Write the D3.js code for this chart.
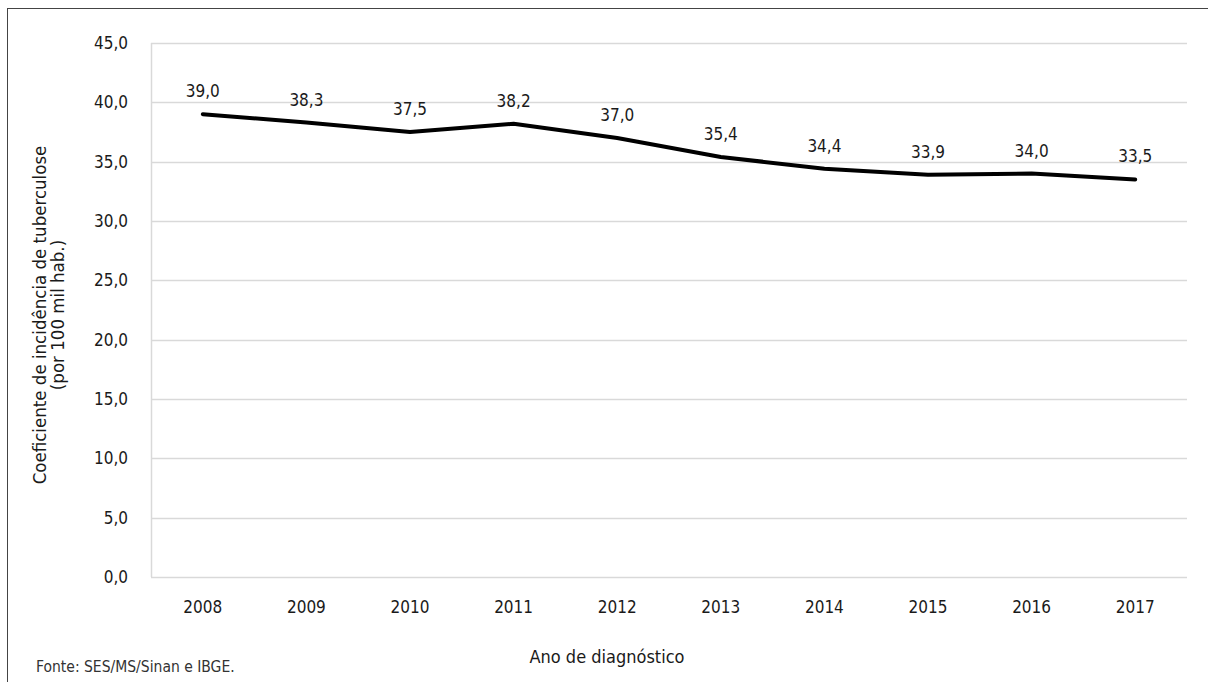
<!DOCTYPE html>
<html>
<head>
<meta charset="utf-8">
<script src="https://cdn.jsdelivr.net/npm/d3@7"></script>
<style>
  body { margin: 0; background: #fff; }
  svg text { font-family: "DejaVu Sans Condensed", "Liberation Sans Narrow", sans-serif; fill: #1a1a1a; }
</style>
</head>
<body>
<svg id="chart" width="1208" height="682"></svg>
<script>

// Chart data.
var years = ['2008', '2009', '2010', '2011', '2012', '2013', '2014', '2015', '2016', '2017'];
var rates = [39.0, 38.3, 37.5, 38.2, 37.0, 35.4, 34.4, 33.9, 34.0, 33.5];
var yTicks = [0, 5, 10, 15, 20, 25, 30, 35, 40, 45];

// Number format with comma decimal.
var fmt = function(v) { return v.toFixed(1).replace('.', ','); };

var svg = d3.select('#chart');

// Outer frame.
svg.append('rect')
  .attr('x', 7.5).attr('y', 8.5)
  .attr('width', 1220).attr('height', 700)
  .attr('fill', 'none')
  .attr('stroke', '#444')
  .attr('stroke-width', 1);

// Scales.
var x = d3.scaleBand().domain(years).range([151, 1187]);
var y = d3.scaleLinear().domain([0, 45]).range([577, 43]);

// Gridlines.
svg.append('g').selectAll('line')
  .data(yTicks)
  .enter().append('line')
  .attr('x1', 151).attr('x2', 1187)
  .attr('y1', function(d) { return Math.round(y(d)) + 0.5; })
  .attr('y2', function(d) { return Math.round(y(d)) + 0.5; })
  .attr('stroke', '#d9d9d9')
  .attr('stroke-width', 1.5);

// Left axis line.
svg.append('line')
  .attr('x1', 151.5).attr('x2', 151.5)
  .attr('y1', y(45)).attr('y2', y(0))
  .attr('stroke', '#d9d9d9')
  .attr('stroke-width', 1.5);

// Y tick labels.
svg.append('g').selectAll('text')
  .data(yTicks)
  .enter().append('text')
  .attr('x', 128)
  .attr('y', function(d) { return y(d) + 6; })
  .attr('text-anchor', 'end')
  .style('font-size', '17px')
  .text(fmt);

// X tick labels.
svg.append('g').selectAll('text')
  .data(years)
  .enter().append('text')
  .attr('x', function(d) { return x(d) + x.bandwidth() / 2; })
  .attr('y', 613)
  .attr('text-anchor', 'middle')
  .style('font-size', '17px')
  .text(function(d) { return d; });

// Line.
var line = d3.line()
  .x(function(d, i) { return x(years[i]) + x.bandwidth() / 2; })
  .y(function(d) { return y(d); });

svg.append('path')
  .datum(rates)
  .attr('d', line)
  .attr('fill', 'none')
  .attr('stroke', '#000')
  .attr('stroke-width', 4)
  .attr('stroke-linejoin', 'round')
  .attr('stroke-linecap', 'round');

// Data labels.
svg.append('g').selectAll('text')
  .data(rates)
  .enter().append('text')
  .attr('x', function(d, i) { return x(years[i]) + x.bandwidth() / 2; })
  .attr('y', function(d) { return y(d) - 17; })
  .attr('text-anchor', 'middle')
  .style('font-size', '17px')
  .text(fmt);

// Axis titles.
svg.append('text')
  .attr('x', 607).attr('y', 663)
  .attr('text-anchor', 'middle')
  .style('font-size', '18px')
  .text('Ano de diagnóstico');

var yTitle = svg.append('text')
  .attr('transform', 'translate(0,315) rotate(-90)')
  .attr('text-anchor', 'middle')
  .style('font-size', '18.5px');
yTitle.append('tspan').attr('x', 0).attr('y', 46).text('Coeficiente de incidência de tuberculose');
yTitle.append('tspan').attr('x', 0).attr('y', 64).text('(por 100 mil hab.)');

// Source note.
svg.append('text')
  .attr('x', 36).attr('y', 672)
  .style('font-size', '15.5px')
  .style('fill', '#333')
  .text('Fonte: SES/MS/Sinan e IBGE.');

</script>
</body>
</html>
